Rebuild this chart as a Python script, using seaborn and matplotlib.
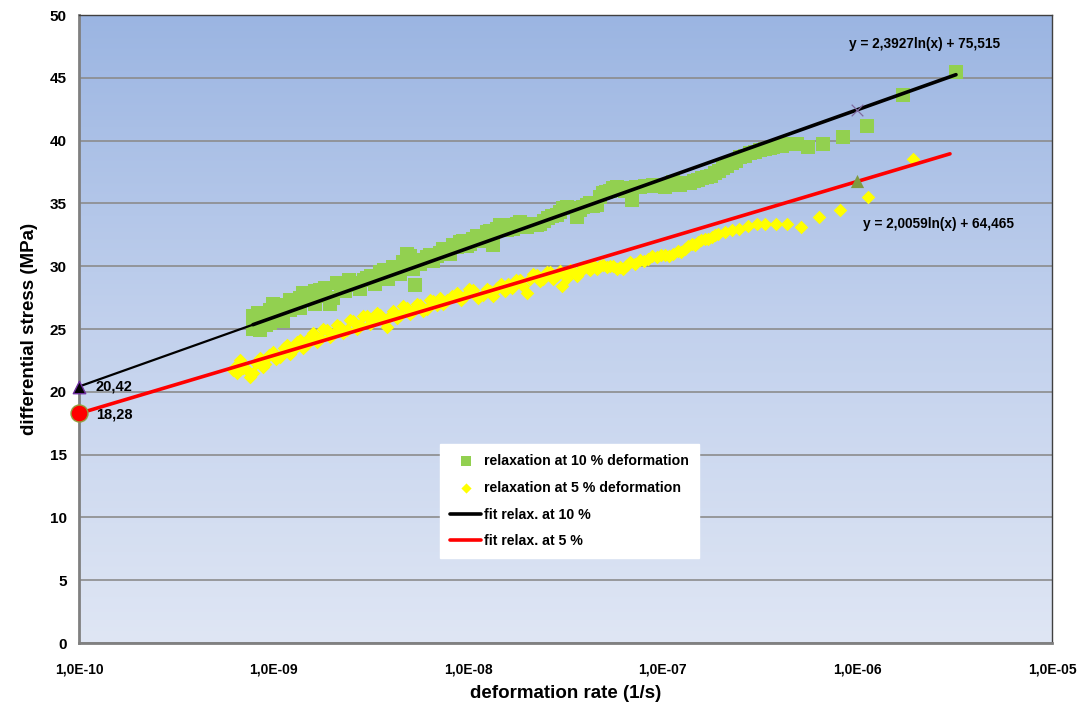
import numpy as np
import pandas as pd
import matplotlib
matplotlib.use("Agg")
import matplotlib.pyplot as plt
import seaborn as sns
from matplotlib.colors import LinearSegmentedColormap

# ---------------- data ----------------
# deformation rate given as log10(rate in 1/s), differential stress in MPa
log_rate_10 = [-9.106, -9.106, -9.106, -9.096, -9.080, -9.070, -9.055, -9.039, -9.019, -9.019,
               -9.003, -8.983, -8.983, -8.952, -8.936, -8.916, -8.916, -8.890, -8.864, -8.864,
               -8.849, -8.828, -8.808, -8.787, -8.787, -8.772, -8.762, -8.736, -8.710, -8.695,
               -8.674, -8.654, -8.633, -8.613, -8.592, -8.571, -8.556, -8.535, -8.520, -8.499,
               -8.479, -8.453, -8.433, -8.412, -8.386, -8.366, -8.350, -8.335, -8.314, -8.299,
               -8.284, -8.273, -8.263, -8.248, -8.232, -8.212, -8.196, -8.181, -8.160, -8.145,
               -8.129, -8.109, -8.094, -8.078, -8.058, -8.042, -8.027, -8.006, -7.991, -7.975,
               -7.955, -7.939, -7.924, -7.903, -7.888, -7.873, -7.852, -7.837, -7.821, -7.801,
               -7.785, -7.770, -7.749, -7.734, -7.718, -7.698, -7.682, -7.667, -7.646, -7.631,
               -7.610, -7.590, -7.569, -7.544, -7.528, -7.513, -7.492, -7.477, -7.441, -7.426,
               -7.410, -7.390, -7.374, -7.359, -7.338, -7.323, -7.307, -7.292, -7.271, -7.256,
               -7.235, -7.220, -7.194, -7.179, -7.158, -7.138, -7.117, -7.091, -7.066, -7.050,
               -7.030, -7.009, -6.989, -6.968, -6.948, -6.927, -6.912, -6.886, -6.860, -6.840,
               -6.819, -6.799, -6.773, -6.752, -6.732, -6.711, -6.691, -6.670, -6.644, -6.624,
               -6.603, -6.578, -6.552, -6.526, -6.501, -6.475, -6.449, -6.434, -6.413, -6.388,
               -6.362, -6.336, -6.310, -6.254, -6.177, -6.074, -5.951, -5.766, -5.493]
stress_10 = [25.5, 25.0, 26.0, 25.5, 26.3, 24.9, 26.0, 25.3, 26.5, 25.5,
             27.0, 26.9, 25.8, 25.6, 26.8, 27.3, 26.5, 27.0, 27.5, 26.7,
             27.9, 27.7, 27.3, 28.0, 27.0, 27.6, 28.1, 28.3, 27.0, 27.5,
             28.7, 28.4, 28.0, 28.9, 28.7, 28.5, 28.2, 28.9, 29.1, 29.2,
             28.6, 29.5, 29.7, 29.0, 29.9, 29.7, 29.4, 30.3, 31.0, 30.8,
             29.8, 28.5, 30.3, 30.2, 30.5, 30.7, 30.9, 30.4, 30.8, 31.05,
             31.4, 31.3, 31.0, 31.7, 31.5, 31.9, 32.0, 31.6, 31.8, 32.2,
             32.4, 32.0, 32.4, 32.7, 32.8, 31.7, 33.0, 33.3, 33.1, 32.9,
             33.3, 33.0, 33.4, 33.5, 33.2, 33.1, 33.3, 33.4, 33.3, 33.4,
             33.6, 33.8, 34.0, 34.1, 34.3, 34.6, 34.7, 34.6, 33.9, 34.5,
             34.7, 34.9, 35.0, 34.8, 34.9, 35.5, 35.8, 35.9, 36.0, 36.2,
             36.3, 36.1, 36.0, 36.2, 35.3, 36.3, 36.3, 36.4, 36.4, 36.5,
             36.5, 36.4, 36.3, 36.5, 36.7, 36.6, 36.5, 36.6, 36.6, 36.8,
             36.9, 37.0, 37.1, 37.2, 37.4, 37.6, 37.8, 38.0, 38.2, 38.4,
             38.7, 38.8, 39.0, 39.1, 39.25, 39.35, 39.45, 39.5, 39.6, 39.6,
             39.7, 39.7, 39.7, 39.5, 39.7, 40.3, 41.2, 43.6, 45.5]

log_rate_5 = [-9.209, -9.198, -9.188, -9.173, -9.157, -9.137, -9.121, -9.106, -9.090, -9.070,
              -9.055, -9.044, -9.024, -9.003, -8.988, -8.967, -8.947, -8.931, -8.916, -8.900,
              -8.880, -8.864, -8.849, -8.828, -8.813, -8.798, -8.777, -8.762, -8.746, -8.726,
              -8.710, -8.695, -8.674, -8.659, -8.643, -8.623, -8.607, -8.592, -8.571, -8.556,
              -8.541, -8.520, -8.505, -8.489, -8.469, -8.453, -8.438, -8.417, -8.402, -8.386,
              -8.366, -8.350, -8.335, -8.314, -8.299, -8.284, -8.263, -8.248, -8.232, -8.212,
              -8.196, -8.181, -8.160, -8.145, -8.129, -8.109, -8.083, -8.058, -8.037, -8.016,
              -7.996, -7.975, -7.950, -7.924, -7.903, -7.888, -7.873, -7.852, -7.831, -7.811,
              -7.795, -7.775, -7.754, -7.734, -7.718, -7.698, -7.682, -7.667, -7.646, -7.631,
              -7.616, -7.595, -7.580, -7.564, -7.544, -7.528, -7.518, -7.503, -7.492, -7.477,
              -7.461, -7.441, -7.426, -7.410, -7.390, -7.374, -7.359, -7.338, -7.323, -7.307,
              -7.287, -7.271, -7.256, -7.235, -7.220, -7.205, -7.184, -7.169, -7.143, -7.117,
              -7.097, -7.076, -7.056, -7.030, -7.009, -6.989, -6.968, -6.948, -6.922, -6.907,
              -6.886, -6.871, -6.850, -6.835, -6.819, -6.804, -6.783, -6.768, -6.747, -6.732,
              -6.716, -6.680, -6.644, -6.608, -6.562, -6.516, -6.475, -6.418, -6.362, -6.290,
              -6.197, -6.089, -5.946, -5.714]
stress_5 = [21.7, 22.0, 21.5, 22.5, 21.9, 21.7, 21.2, 21.5, 22.3, 22.7,
            22.0, 22.2, 22.9, 23.2, 22.6, 22.8, 23.5, 23.7, 23.0, 23.3,
            24.0, 24.1, 23.5, 23.8, 24.4, 24.7, 24.0, 24.3, 25.0, 24.9,
            24.4, 24.6, 25.3, 25.2, 24.7, 24.9, 25.7, 25.6, 25.0, 25.3,
            26.0, 26.0, 25.4, 25.7, 26.3, 26.1, 25.7, 25.2, 26.0, 26.4,
            25.9, 26.1, 26.8, 26.7, 26.2, 26.4, 27.0, 26.9, 26.4, 26.6,
            27.3, 27.2, 26.9, 27.5, 27.0, 27.3, 27.6, 27.9, 27.3, 27.6,
            28.2, 28.1, 27.5, 27.7, 28.2, 28.0, 27.6, 28.3, 28.6, 28.0,
            28.6, 28.3, 28.9, 28.9, 28.4, 27.9, 29.0, 29.4, 29.3, 28.8,
            29.0, 29.5, 29.5, 29.0, 29.3, 29.6, 28.4, 29.4, 29.1, 29.7,
            29.6, 29.2, 29.5, 29.9, 29.9, 29.7, 30.1, 29.8, 30.0, 30.1,
            29.9, 30.0, 30.0, 29.8, 29.9, 29.8, 30.1, 30.3, 30.2, 30.5,
            30.4, 30.6, 30.8, 30.7, 30.9, 30.9, 30.8, 31.0, 31.2, 31.1,
            31.4, 31.6, 31.8, 31.7, 31.9, 32.1, 32.2, 32.2, 32.3, 32.5,
            32.6, 32.7, 32.9, 33.0, 33.2, 33.35, 33.4, 33.4, 33.4, 33.1,
            33.9, 34.5, 35.5, 38.5]

# logarithmic fits y = a ln(x) + b (as printed on the chart)
fit10_a, fit10_b = 2.3927, 75.515
fit5_a, fit5_b = 2.0059, 64.465
fit10_back = 1e-10            # backward extension of the 10 % fit
fit10_span = (7.83e-10, 3.21e-6)
fit5_span = (1e-10, 2.99e-6)

# evaluated points of the fits
start_rate = 1e-10
start_10, start_5 = 20.42, 18.28
check_rate = 1e-6
check_10, check_5 = 42.46, 36.75

x_ticks = [1e-10, 1e-9, 1e-8, 1e-7, 1e-6, 1e-5]
x_tick_labels = ["1,0E-10", "1,0E-09", "1,0E-08", "1,0E-07", "1,0E-06", "1,0E-05"]
y_ticks = list(range(0, 51, 5))

label_10 = "relaxation at 10 % deformation"
label_5 = "relaxation at 5 % deformation"
label_fit10 = "fit relax. at 10 %"
label_fit5 = "fit relax. at 5 %"

# ---------------- style ----------------
sns.set_style("white")
plt.rcParams["font.family"] = ["Liberation Sans", "DejaVu Sans"]
plt.rcParams["font.weight"] = "bold"
for key in ["text.color", "axes.labelcolor", "xtick.labelcolor", "ytick.labelcolor"]:
    plt.rcParams[key] = "black"

fig = plt.figure(figsize=(10.84, 7.11), dpi=100)
ax = fig.add_axes([0.0729, 0.0956, 0.8976, 0.8833])

# gradient background
cmap = LinearSegmentedColormap.from_list("bg", ["#DFE6F4", "#C2D1ED", "#9BB5E2"])
grad = np.linspace(0, 1, 256).reshape(-1, 1)
ax.imshow(grad, extent=[0, 1, 0, 1], transform=ax.transAxes, origin="lower",
          aspect="auto", cmap=cmap, zorder=-5)

df10 = pd.DataFrame({"rate": 10.0 ** np.array(log_rate_10), "stress": stress_10})
df5 = pd.DataFrame({"rate": 10.0 ** np.array(log_rate_5), "stress": stress_5})

sns.scatterplot(data=df10, x="rate", y="stress", marker="s", s=92, color="#92D050",
                linewidth=0, ax=ax, label=label_10, zorder=3)
sns.scatterplot(data=df5, x="rate", y="stress", marker="D", s=48, color="#FFFF00",
                linewidth=0, ax=ax, label=label_5, zorder=3)

# fit lines
xb = np.logspace(np.log10(fit10_back), np.log10(fit10_span[0]), 50)
ax.plot(xb, fit10_a * np.log(xb) + fit10_b, color="black", lw=1.6, zorder=4)
x10 = np.logspace(np.log10(fit10_span[0]), np.log10(fit10_span[1]), 100)
sns.lineplot(x=x10, y=fit10_a * np.log(x10) + fit10_b, color="black", lw=2.6, ax=ax,
             label=label_fit10, zorder=4)
x5 = np.logspace(np.log10(fit5_span[0]), np.log10(fit5_span[1]), 100)
sns.lineplot(x=x5, y=fit5_a * np.log(x5) + fit5_b, color="#FF0000", lw=2.6, ax=ax,
             label=label_fit5, zorder=4)

# evaluated points
ax.scatter([start_rate], [start_10], marker="^", s=80, color="black",
           edgecolor="#7030A0", linewidth=1, zorder=6, clip_on=False)
ax.scatter([start_rate], [start_5], marker="o", s=150, color="#FF0000",
           edgecolor="#92A040", linewidth=1, zorder=6, clip_on=False)
ax.scatter([check_rate], [check_10], marker="x", s=70, color="#7F6A9F", linewidth=0.9, zorder=5)
ax.scatter([check_rate], [check_5], marker="^", s=90, color="#7F9A3F", linewidth=0, zorder=5)

ax.text(1.22e-10, start_10, f"{start_10:.2f}".replace(".", ","), fontsize=10.5,
        fontweight="bold", va="center", ha="left", zorder=7)
ax.text(1.22e-10, start_5 - 0.1, f"{start_5:.2f}".replace(".", ","), fontsize=10.5,
        fontweight="bold", va="center", ha="left", zorder=7)

eq10 = f"y = {fit10_a:.4f}ln(x) + {fit10_b:.3f}".replace(".", ",")
eq5 = f"y = {fit5_a:.4f}ln(x) + {fit5_b:.3f}".replace(".", ",")
ax.text(2.22e-6, 47.7, eq10, fontsize=9.8, fontweight="bold", ha="center", va="center", zorder=7)
ax.text(2.6e-6, 33.4, eq5, fontsize=9.8, fontweight="bold", ha="center", va="center", zorder=7)

# axes
ax.set_xscale("log")
ax.set_xlim(1e-10, 1e-5)
ax.set_ylim(0, 50)
ax.set_xticks(x_ticks)
ax.set_xticklabels(x_tick_labels)
ax.xaxis.set_minor_locator(matplotlib.ticker.NullLocator())
ax.set_yticks(y_ticks)
ax.set_yticklabels([str(v) for v in y_ticks])
ax.tick_params(axis="x", direction="out", length=5, width=1.2, color="#808080",
               labelcolor="black", pad=9)
ax.tick_params(axis="y", direction="out", length=5, width=1.2, color="#808080",
               labelcolor="black", labelsize=11, pad=4)
for lab in ax.get_xticklabels():
    lab.set_fontweight("bold")
    lab.set_fontsize(10)
for lab in ax.get_yticklabels():
    lab.set_fontweight("bold")

ax.grid(axis="y", color="#8C8C8C", lw=1.2, zorder=1)
ax.grid(axis="x", visible=False)
ax.set_axisbelow(True)

for side in ["left", "bottom"]:
    ax.spines[side].set_color("#808080")
    ax.spines[side].set_linewidth(2)
for side in ["top", "right"]:
    ax.spines[side].set_color("#404040")
    ax.spines[side].set_linewidth(1)

ax.set_xlabel("deformation rate (1/s)", fontsize=13.5, fontweight="bold", labelpad=6,
              color="black")
ax.set_ylabel("differential stress (MPa)", fontsize=13.5, fontweight="bold", labelpad=8,
              color="black")

handles, labels = ax.get_legend_handles_labels()
order = [label_10, label_5, label_fit10, label_fit5]
hmap = dict(zip(labels, handles))
leg = ax.legend([hmap[l] for l in order], order, loc="upper left",
                bbox_to_anchor=(0.364, 0.328), frameon=True, fancybox=False,
                framealpha=1, facecolor="white", edgecolor="white",
                prop={"weight": "bold", "size": 10.2}, handlelength=2.2,
                labelspacing=0.9, borderpad=0.7, handletextpad=0.2, markerscale=0.75)
for t in leg.get_texts():
    t.set_color("black")
leg.set_zorder(10)

fig.savefig("out.png", dpi=100)
